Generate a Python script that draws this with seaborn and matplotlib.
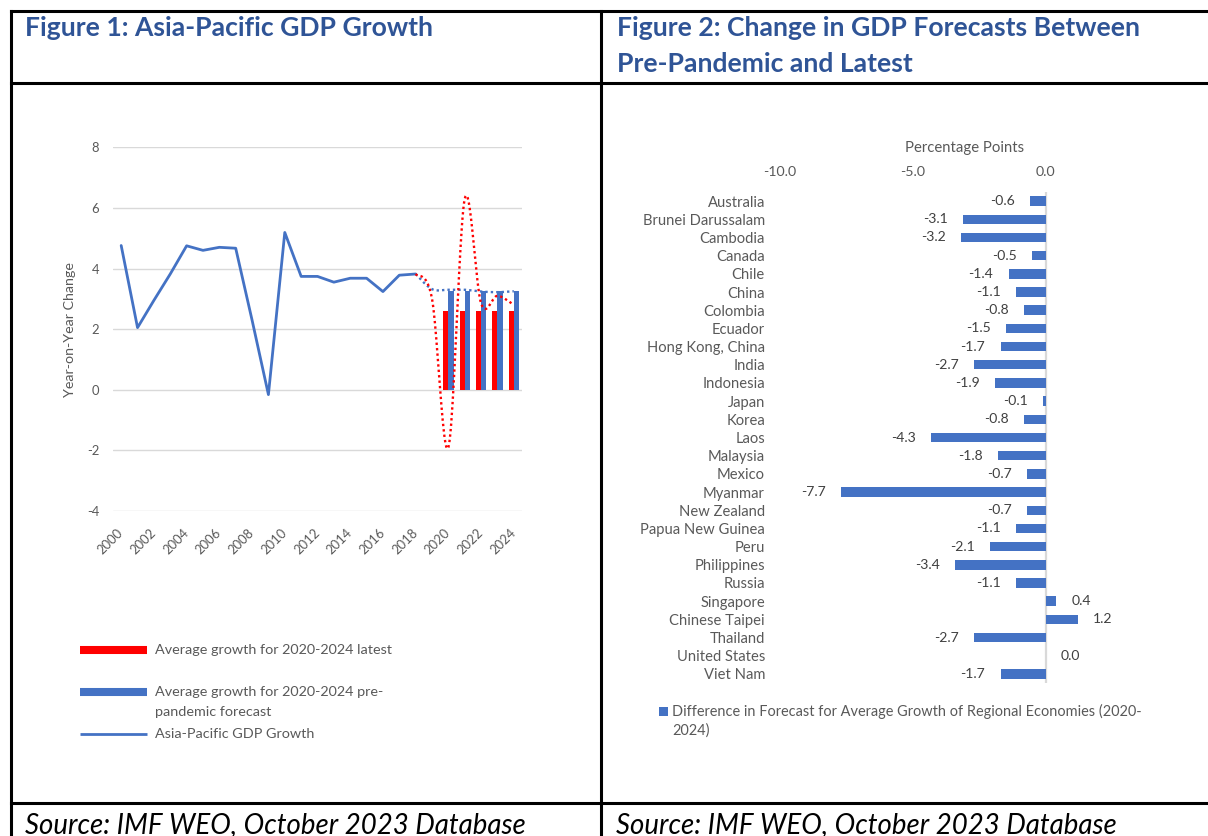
import numpy as np
import pandas as pd
import matplotlib
matplotlib.use('Agg')
import matplotlib.pyplot as plt
import seaborn as sns
from matplotlib.lines import Line2D
from matplotlib.patches import Rectangle

# ---------------- data ----------------
years = list(range(2000, 2025))
tick_years = list(range(2000, 2025, 2))
y_ticks_left = [-4, -2, 0, 2, 4, 6, 8]

growth_years = list(range(2000, 2019))
growth = [4.76, 2.05, 2.95, 3.82, 4.75, 4.60, 4.70, 4.67, 2.30, -0.16,
          5.19, 3.74, 3.74, 3.55, 3.68, 3.68, 3.24, 3.78, 3.82]

forecast_years = [2018, 2019, 2020, 2021, 2022, 2023, 2024]
latest_forecast = [3.82, 3.00, -1.90, 6.30, 2.85, 3.10, 2.80]
prepandemic_forecast = [3.82, 3.32, 3.30, 3.30, 3.24, 3.22, 3.25]

bar_years = [2020, 2021, 2022, 2023, 2024]
avg_latest = [2.60, 2.60, 2.60, 2.60, 2.60]
avg_prepandemic = [3.25, 3.25, 3.25, 3.25, 3.25]

countries = ["Australia", "Brunei Darussalam", "Cambodia", "Canada", "Chile",
             "China", "Colombia", "Ecuador", "Hong Kong, China", "India",
             "Indonesia", "Japan", "Korea", "Laos", "Malaysia", "Mexico",
             "Myanmar", "New Zealand", "Papua New Guinea", "Peru",
             "Philippines", "Russia", "Singapore", "Chinese Taipei",
             "Thailand", "United States", "Viet Nam"]
forecast_change = [-0.6, -3.1, -3.2, -0.5, -1.4, -1.1, -0.8, -1.5, -1.7, -2.7,
                   -1.9, -0.1, -0.8, -4.3, -1.8, -0.7, -7.7, -0.7, -1.1, -2.1,
                   -3.4, -1.1, 0.4, 1.2, -2.7, 0.0, -1.7]
x_ticks_right = [-10, -5, 0]
x_tick_labels_right = ["-10.0", "-5.0", "0.0"]

# ---------------- style ----------------
BLUE = '#4472C4'
RED = '#FF0000'
GRID = '#D9D9D9'
TXT = '#595959'
LBL = '#404040'
TITLE = '#2F5496'

sns.set_style('white')
plt.rcParams['font.family'] = ['Lato', 'DejaVu Sans']
plt.rcParams['axes.unicode_minus'] = False

W, H = 1208, 836
fig = plt.figure(figsize=(W / 100, H / 100), dpi=100)
renderer = fig.canvas.get_renderer()


def fx(x):
    return x / W


def fy(y):
    return 1 - y / H


def ax_at(l, t, r, b):
    return fig.add_axes([l / W, 1 - b / H, (r - l) / W, (b - t) / H])


def fig_line(x0, y0, x1, y1, **kw):
    fig.add_artist(Line2D([fx(x0), fx(x1)], [fy(y0), fy(y1)],
                          transform=fig.transFigure, **kw))


def size_for(s, width_px, **kw):
    t = fig.text(0, 0, s, fontsize=10, **kw)
    w = t.get_window_extent(renderer).width
    t.remove()
    return 10 * width_px / w


def smooth(xs, ys, n=24):
    P = np.column_stack([xs, ys]).astype(float)
    E = np.vstack([P[0], P, P[-1]])
    segs = []
    t = np.linspace(0, 1, n)[:, None]
    for i in range(len(P) - 1):
        p0, p1, p2, p3 = E[i], E[i + 1], E[i + 2], E[i + 3]
        c1 = p1 + (p2 - p0) / 6
        c2 = p2 - (p3 - p1) / 6
        seg = ((1 - t) ** 3) * p1 + 3 * ((1 - t) ** 2) * t * c1 + \
            3 * (1 - t) * (t ** 2) * c2 + (t ** 3) * p2
        segs.append(seg if i == 0 else seg[1:])
    S = np.vstack(segs)
    return S[:, 0], S[:, 1]


# font sizes
fs_title = size_for('Figure 1: Asia-Pacific GDP Growth', 408, weight='bold')
fs_source = size_for('Source: IMF WEO, October 2023 Database', 500, style='italic')
fs_leg_l = size_for('Average growth for 2020-2024 latest', 237)
fs_leg_r = size_for('Difference in Forecast for Average Growth of Regional Economies (2020-', 469)
fs_ylab = size_for('Year-on-Year Change', 135)
fs_pct = size_for('Percentage Points', 119)
fs_tick_l = size_for('2000', 30)
fs_country = size_for('Brunei Darussalam', 122)
fs_xtick_r = size_for('-10.0', 33)
fs_dlab = size_for('-7.7', 24.5)

# ---------------- frame (table borders) ----------------
bkw = dict(color='black', lw=2.2, solid_capstyle='projecting')
fig_line(10.5, 10.5, 1208, 10.5, **bkw)
fig_line(10.5, 82.5, 1208, 82.5, **bkw)
fig_line(10.5, 803, 1208, 803, **bkw)
fig_line(10.5, 10.5, 10.5, 836, **bkw)
fig_line(601, 10.5, 601, 836, **bkw)

fig.text(fx(25), fy(28), 'Figure 1: Asia-Pacific GDP Growth', fontsize=fs_title,
         weight='bold', color=TITLE, ha='left', va='center')
fig.text(fx(617), fy(28), 'Figure 2: Change in GDP Forecasts Between', fontsize=fs_title,
         weight='bold', color=TITLE, ha='left', va='center')
fig.text(fx(617), fy(64), 'Pre-Pandemic and Latest', fontsize=fs_title,
         weight='bold', color=TITLE, ha='left', va='center')
fig.text(fx(25), fy(833), 'Source: IMF WEO, October 2023 Database', fontsize=fs_source,
         style='italic', color='black', ha='left', va='baseline')
fig.text(fx(616), fy(833), 'Source: IMF WEO, October 2023 Database', fontsize=fs_source,
         style='italic', color='black', ha='left', va='baseline')

# ---------------- Figure 1 ----------------
axL = ax_at(113, 147.3, 522, 511)
bar_df = pd.DataFrame({
    'year': bar_years + bar_years,
    'value': avg_latest + avg_prepandemic,
    'series': ['latest'] * len(bar_years) + ['pre'] * len(bar_years),
})
sns.barplot(data=bar_df, x='year', y='value', hue='series', hue_order=['latest', 'pre'],
            palette={'latest': RED, 'pre': BLUE}, native_scale=True, width=0.64,
            saturation=1, legend=False, ax=axL, zorder=2, linewidth=0,
            edgecolor='none')

sns.lineplot(x=growth_years, y=growth, color=BLUE, lw=2.0, ax=axL, zorder=4)
xs, ys = smooth(forecast_years, prepandemic_forecast)
sns.lineplot(x=xs, y=ys, sort=False, estimator=None, color=BLUE, lw=1.7,
             linestyle=(0, (1, 1.3)), ax=axL, zorder=3)
xs, ys = smooth(forecast_years, latest_forecast)
sns.lineplot(x=xs, y=ys, sort=False, estimator=None, color=RED, lw=1.7,
             linestyle=(0, (1, 1.3)), ax=axL, zorder=5)

axL.set_xlim(1999.5, 2024.5)
axL.set_ylim(-4, 8)
axL.set_yticks(y_ticks_left)
axL.set_yticklabels([str(v) for v in y_ticks_left])
axL.set_xticks(tick_years)
axL.set_xticklabels([str(y) for y in tick_years], rotation=45, ha='right',
                    va='center', rotation_mode='anchor')
axL.yaxis.grid(True, color=GRID, lw=1.0)
axL.xaxis.grid(False)
axL.set_axisbelow(True)
for s in axL.spines.values():
    s.set_visible(False)
axL.tick_params(axis='y', length=0, colors=TXT, labelsize=fs_tick_l, pad=9.9)
axL.tick_params(axis='x', length=0, colors=TXT, labelsize=fs_tick_l, pad=14.5)
axL.set_xlabel('')
axL.set_ylabel('Year-on-Year Change', fontsize=fs_ylab, color=TXT)
axL.yaxis.set_label_coords((76 - 113) / 409, 0.5)

# legend of Figure 1
fig_line(80, 649.5, 147, 649.5, color=RED, lw=5.8, solid_capstyle='butt')
fig_line(80, 691.5, 147, 691.5, color=BLUE, lw=5.8, solid_capstyle='butt')
fig_line(80, 734.3, 147, 734.3, color=BLUE, lw=2.0, solid_capstyle='butt')
lkw = dict(fontsize=fs_leg_l, color=TXT, ha='left', va='center')
fig.text(fx(155), fy(650), 'Average growth for 2020-2024 latest', **lkw)
fig.text(fx(155), fy(692), 'Average growth for 2020-2024 pre-', **lkw)
fig.text(fx(155), fy(712), 'pandemic forecast', **lkw)
fig.text(fx(155), fy(734), 'Asia-Pacific GDP Growth', **lkw)

# ---------------- Figure 2 ----------------
axR = ax_at(780, 192, 1152, 683)
bar_r = pd.DataFrame({'country': countries, 'change': forecast_change})
sns.barplot(data=bar_r, x='change', y='country', order=countries, orient='h',
            color=BLUE, saturation=1, width=0.52, ax=axR, zorder=2,
            linewidth=0, edgecolor='none')
axR.axvline(0, color=GRID, lw=1.6, zorder=1)
axR.set_xlim(-10, 4)
axR.set_ylim(len(countries) - 0.5, -0.5)
axR.xaxis.tick_top()
axR.set_xticks(x_ticks_right)
axR.set_xticklabels(x_tick_labels_right)
for s in axR.spines.values():
    s.set_visible(False)
axR.grid(False)
axR.tick_params(axis='x', length=0, colors=TXT, labelsize=fs_xtick_r, pad=10)
axR.tick_params(axis='y', length=0, colors=TXT, labelsize=fs_country, pad=10.8)
axR.set_ylabel('')
axR.xaxis.set_label_position('top')
axR.set_xlabel('Percentage Points', fontsize=fs_pct, color=TXT)
axR.xaxis.set_label_coords(0.497, (683 - 152) / 491)
axR.bar_label(axR.containers[0], fmt='{:.1f}', padding=11, fontsize=fs_dlab, color=LBL)

# legend of Figure 2
fig.add_artist(Rectangle((fx(659), fy(716)), 9 / W, 9 / H, transform=fig.transFigure,
                         facecolor=BLUE, edgecolor='none'))
rkw = dict(fontsize=fs_leg_r, color=TXT, ha='left', va='center')
fig.text(fx(672), fy(711), 'Difference in Forecast for Average Growth of Regional Economies (2020-', **rkw)
fig.text(fx(672), fy(731), '2024)', **rkw)

fig.savefig('out.png', dpi=100)
